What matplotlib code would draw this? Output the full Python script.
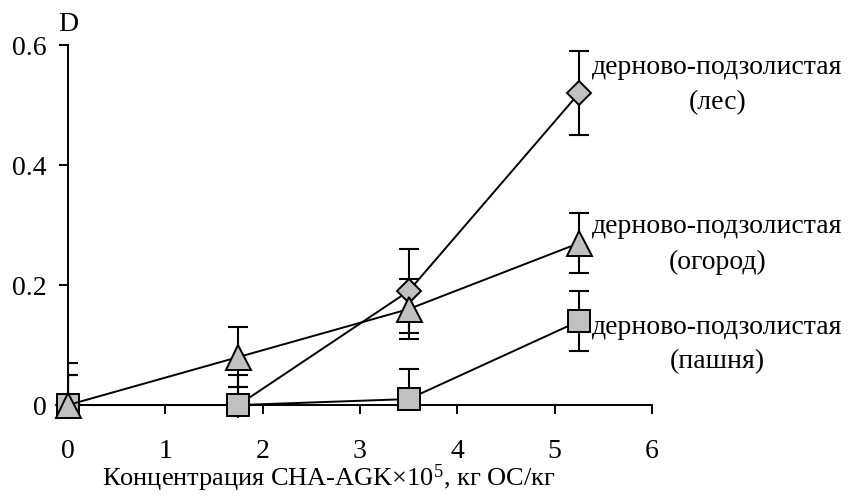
import matplotlib
matplotlib.use("Agg")
import matplotlib.pyplot as plt

plt.rcParams['font.family'] = ['Liberation Serif', 'DejaVu Serif']
plt.rcParams['mathtext.fontset'] = 'custom'
plt.rcParams['mathtext.rm'] = 'Liberation Serif'
plt.rcParams['mathtext.it'] = 'Liberation Serif'

x = [0, 1.75, 3.5, 5.25]
les = [0, 0, 0.19, 0.52]
les_err = [0.07, 0.05, 0.07, 0.07]
ogorod = [0, 0.08, 0.16, 0.27]
ogorod_err = [0.05, 0.05, 0.05, 0.05]
pashnya = [0, 0, 0.01, 0.14]
pashnya_err = [0.05, 0.03, 0.05, 0.05]

xticks = [0, 1, 2, 3, 4, 5, 6]
yticks = [0, 0.2, 0.4, 0.6]
ytick_labels = ['0', '0.2', '0.4', '0.6']

labels = [("дерново-подзолистая", "(лес)", 0.563, 0.505),
          ("дерново-подзолистая", "(огород)", 0.297, 0.238),
          ("дерново-подзолистая", "(пашня)", 0.130, 0.072)]

fig = plt.figure(figsize=(8.49, 4.97), dpi=100)
ax = fig.add_axes([0.080, 0.185, 0.688, 0.724])

gray = '#c0c0c0'
series = [(les, les_err, 'D', 12), (pashnya, pashnya_err, 's', 16.5), (ogorod, ogorod_err, '^', 18)]
for i, (ys, errs, m, ms) in enumerate(series):
    ax.errorbar(x, ys, yerr=errs, fmt='none', ecolor='black', elinewidth=1.5,
                capsize=7, capthick=1.5, zorder=2)
    ax.plot(x, ys, color='black', lw=1.4, marker=m, markersize=ms, markerfacecolor=gray,
            markeredgecolor='black', markeredgewidth=1.4, clip_on=False, zorder=3 + i)

ax.set_xlim(0, 6)
ax.set_ylim(0, 0.6)
ax.set_xticks(xticks)
ax.set_xticklabels([str(t) for t in xticks])
ax.set_yticks(yticks)
ax.set_yticklabels(ytick_labels)
for s in ['top', 'right']:
    ax.spines[s].set_visible(False)
for s in ['left', 'bottom']:
    ax.spines[s].set_linewidth(1.4)
ax.tick_params(axis='both', direction='out', length=6.5, width=1.4, labelsize=20)
ax.tick_params(axis='x', pad=18)
ax.tick_params(axis='y', pad=9)

fig.text(329 / 849, 1 - 486 / 497, 'Концентрация CHA-AGK×10$^{5}$, кг ОС/кг',
         fontsize=19, ha='center', va='baseline')
ax.text(0, 0.635, 'D', fontsize=20, ha='center', va='center', clip_on=False)

for l1, l2, y1, y2 in labels:
    ax.text(6.67, y1, l1, fontsize=20, ha='center', va='center', clip_on=False)
    ax.text(6.67, y2, l2, fontsize=20, ha='center', va='center', clip_on=False)

fig.savefig('out.png', dpi=100)
